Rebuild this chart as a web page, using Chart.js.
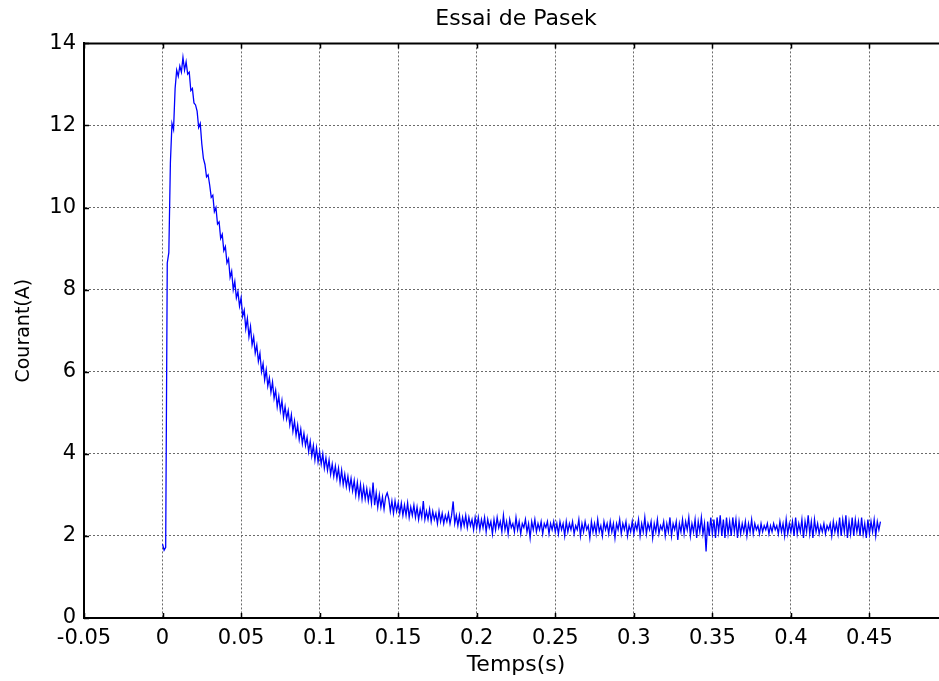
<!DOCTYPE html>
<html>
<head>
<meta charset="utf-8">
<title>Essai de Pasek</title>
<script src="https://cdn.jsdelivr.net/npm/chart.js@4.4.1/dist/chart.umd.min.js"></script>
<style>
  html, body { margin: 0; padding: 0; background: #fff; overflow: hidden; }
  #wrap { width: 948px; height: 681px; }
</style>
</head>
<body>
<div id="wrap"><canvas id="pasekChart" width="948" height="681"></canvas></div>
<script>
// temps d'acquisition : un echantillon toutes les 1 ms a partir de t = 0
const sampleStart = 0;
const sampleStep = 0.001;

const courant = [
  1.80, 1.65, 1.72, 8.65, 8.90, 11.10, 12.05, 11.90, 12.90, 13.35,
  13.20, 13.45, 13.30, 13.66, 13.35, 13.55, 13.25, 13.30, 12.85, 12.90,
  12.55, 12.50, 12.35, 11.95, 12.05, 11.55, 11.20, 11.05, 10.75, 10.80,
  10.55, 10.25, 10.30, 9.90, 10.00, 9.60, 9.65, 9.25, 9.35, 8.95,
  9.05, 8.65, 8.75, 8.30, 8.45, 8.00, 8.20, 7.80, 7.95, 7.60,
  7.80, 7.35, 7.50, 7.05, 7.30, 6.85, 7.10, 6.65, 6.85, 6.45,
  6.65, 6.25, 6.45, 6.00, 6.20, 5.80, 6.05, 5.65, 5.85, 5.50,
  5.75, 5.35, 5.55, 5.15, 5.40, 5.05, 5.30, 4.90, 5.15, 4.85,
  5.05, 4.70, 4.95, 4.55, 4.80, 4.45, 4.70, 4.35, 4.60, 4.25,
  4.50, 4.20, 4.40, 4.05, 4.30, 3.95, 4.20, 3.85, 4.15, 3.80,
  4.05, 3.75, 4.00, 3.65, 3.90, 3.60, 3.85, 3.50, 3.75, 3.45,
  3.70, 3.40, 3.65, 3.30, 3.60, 3.25, 3.50, 3.20, 3.45, 3.15,
  3.40, 3.10, 3.35, 3.00, 3.30, 2.95, 3.25, 2.90, 3.20, 2.90,
  3.15, 2.85, 3.10, 2.80, 3.30, 2.75, 3.05, 2.70, 3.00, 2.70,
  2.95, 2.65, 2.95, 3.05, 2.90, 2.60, 2.85, 2.55, 2.85, 2.60,
  2.80, 2.55, 2.80, 2.50, 2.75, 2.50, 2.80, 2.45, 2.70, 2.50,
  2.75, 2.45, 2.70, 2.40, 2.65, 2.45, 2.85, 2.40, 2.60, 2.40,
  2.65, 2.35, 2.60, 2.40, 2.55, 2.30, 2.60, 2.35, 2.55, 2.30,
  2.50, 2.35, 2.55, 2.30, 2.50, 2.84, 2.30, 2.50, 2.25, 2.50,
  2.20, 2.45, 2.25, 2.50, 2.20, 2.45, 2.25, 2.40, 2.15, 2.45,
  2.20, 2.45, 2.15, 2.40, 2.20, 2.45, 2.10, 2.40, 2.20, 2.35,
  2.05, 2.40, 2.15, 2.45, 2.20, 2.35, 2.10, 2.50, 2.15, 2.35,
  2.05, 2.40, 2.20, 2.30, 2.10, 2.45, 2.15, 2.35, 2.05, 2.30,
  2.20, 2.40, 2.10, 2.30, 1.95, 2.35, 2.15, 2.40, 2.10, 2.30,
  2.15, 2.35, 2.05, 2.30, 2.20, 2.35, 2.05, 2.30, 2.15, 2.35,
  2.10, 2.30, 2.05, 2.35, 2.15, 2.30, 2.00, 2.35, 2.10, 2.30,
  2.15, 2.35, 2.05, 2.25, 2.15, 2.40, 2.00, 2.30, 2.10, 2.35,
  2.15, 2.25, 1.95, 2.35, 2.10, 2.30, 2.05, 2.40, 2.10, 2.25,
  2.00, 2.35, 2.15, 2.30, 2.05, 2.35, 2.10, 2.30, 1.95, 2.30,
  2.15, 2.40, 2.05, 2.30, 2.15, 2.35, 2.00, 2.25, 2.10, 2.35,
  2.05, 2.30, 2.15, 2.40, 2.00, 2.30, 2.10, 2.45, 2.05, 2.30,
  2.15, 2.35, 1.95, 2.30, 2.10, 2.40, 2.05, 2.25, 2.15, 2.35,
  2.00, 2.30, 2.10, 2.45, 2.00, 2.30, 2.15, 2.35, 1.90, 2.30,
  2.10, 2.40, 2.05, 2.35, 2.15, 2.45, 2.00, 2.30, 2.10, 2.40,
  1.95, 2.35, 2.10, 2.45, 2.05, 2.30, 1.62, 2.35, 2.00, 2.45,
  2.05, 2.40, 1.95, 2.45, 2.10, 2.50, 2.00, 2.40, 1.95, 2.45,
  2.05, 2.35, 2.00, 2.45, 2.10, 2.40, 1.95, 2.35, 2.05, 2.30,
  2.10, 2.35, 2.00, 2.30, 2.10, 2.40, 2.05, 2.30, 2.15, 2.25,
  2.05, 2.30, 2.10, 2.25, 2.15, 2.30, 2.05, 2.25, 2.10, 2.30,
  2.15, 2.25, 2.05, 2.35, 2.10, 2.30, 2.00, 2.40, 2.05, 2.30,
  2.10, 2.35, 2.00, 2.45, 2.05, 2.30, 2.10, 2.40, 1.95, 2.35,
  2.10, 2.50, 2.05, 2.35, 1.95, 2.40, 2.10, 2.30, 2.05, 2.25,
  2.10, 2.30, 2.05, 2.25, 2.15, 2.30, 2.00, 2.35, 2.10, 2.30,
  2.05, 2.45, 2.00, 2.40, 2.10, 2.50, 1.95, 2.35, 2.05, 2.45,
  2.00, 2.40, 2.10, 2.35, 2.00, 2.45, 2.05, 2.30, 1.95, 2.40,
  2.05, 2.35, 2.10, 2.40, 2.00, 2.35, 2.15, 2.35
];

// limites et graduations des axes
const xMin = -0.05;
const xMax = 0.5;
const xStep = 0.05;
const xLastLabel = 0.45;
const yMin = 0;
const yMax = 14;
const yStep = 2;

const titre = "Essai de Pasek";
const labelX = "Temps(s)";
const labelY = "Courant(A)";

// points (temps, courant)
const points = courant.map((c, i) => ({ x: sampleStart + i * sampleStep, y: c }));

// petites graduations vers l'interieur + trait du haut (style matlab)
const innerTicks = {
  id: "innerTicks",
  afterDraw(chart) {
    const { ctx, chartArea: a, scales: { x, y } } = chart;
    ctx.save();
    ctx.strokeStyle = "#000";
    ctx.lineWidth = 2;
    ctx.beginPath();
    ctx.moveTo(a.left, a.top);
    ctx.lineTo(a.right, a.top);
    ctx.stroke();
    ctx.lineWidth = 1.5;
    ctx.beginPath();
    x.ticks.forEach((t) => {
      const px = Math.round(x.getPixelForValue(t.value)) + 0.5;
      ctx.moveTo(px, a.bottom);
      ctx.lineTo(px, a.bottom - 5);
      ctx.moveTo(px, a.top);
      ctx.lineTo(px, a.top + 5);
    });
    y.ticks.forEach((t) => {
      const py = Math.round(y.getPixelForValue(t.value)) + 0.5;
      ctx.moveTo(a.left, py);
      ctx.lineTo(a.left + 5, py);
    });
    ctx.stroke();
    ctx.restore();
  },
};

Chart.defaults.font.family = "'DejaVu Sans', sans-serif";
Chart.defaults.color = "#000";

const ctx = document.getElementById("pasekChart").getContext("2d");

const pasekChart = new Chart(ctx, {
  type: "line",
  data: {
    datasets: [
      {
        label: labelY,
        data: points,
        borderColor: "#0000ff",
        borderWidth: 1.3,
        pointRadius: 0,
        fill: false,
        tension: 0,
      },
    ],
  },
  options: {
    responsive: false,
    animation: false,
    layout: { padding: 0 },
    plugins: {
      legend: { display: false },
      tooltip: { enabled: false },
      title: {
        display: true,
        text: titre,
        fullSize: false,
        font: { size: 22, weight: "normal" },
        color: "#000",
        padding: { top: 6, bottom: 11 },
      },
    },
    scales: {
      x: {
        type: "linear",
        min: xMin,
        max: xMax,
        afterBuildTicks: (scale) => {
          scale.ticks = scale.ticks.filter((t) => t.value <= xLastLabel + 1e-9);
        },
        afterFit: (scale) => {
          scale.height = 63;
        },
        ticks: {
          stepSize: xStep,
          padding: 8,
          maxRotation: 0,
          autoSkip: false,
          font: { size: 21 },
          callback: (v) => String(+Number(v).toFixed(2)),
        },
        grid: {
          color: "#6a6a6a",
          lineWidth: 1,
          drawTicks: false,
        },
        border: { display: true, color: "#000", width: 2, dash: [2, 2] },
        title: {
          display: true,
          text: labelX,
          font: { size: 22 },
          padding: { top: 0, bottom: 3 },
        },
      },
      y: {
        min: yMin,
        max: yMax,
        afterFit: (scale) => {
          scale.width = 84;
        },
        ticks: {
          stepSize: yStep,
          padding: 8,
          font: { size: 21 },
        },
        grid: {
          color: "#6a6a6a",
          lineWidth: 1,
          drawTicks: false,
        },
        border: { display: true, color: "#000", width: 2, dash: [2, 2] },
        title: {
          display: true,
          text: labelY,
          font: { size: 19 },
          padding: { top: 13, bottom: 0 },
        },
      },
    },
  },
  plugins: [innerTicks],
});
</script>
</body>
</html>
